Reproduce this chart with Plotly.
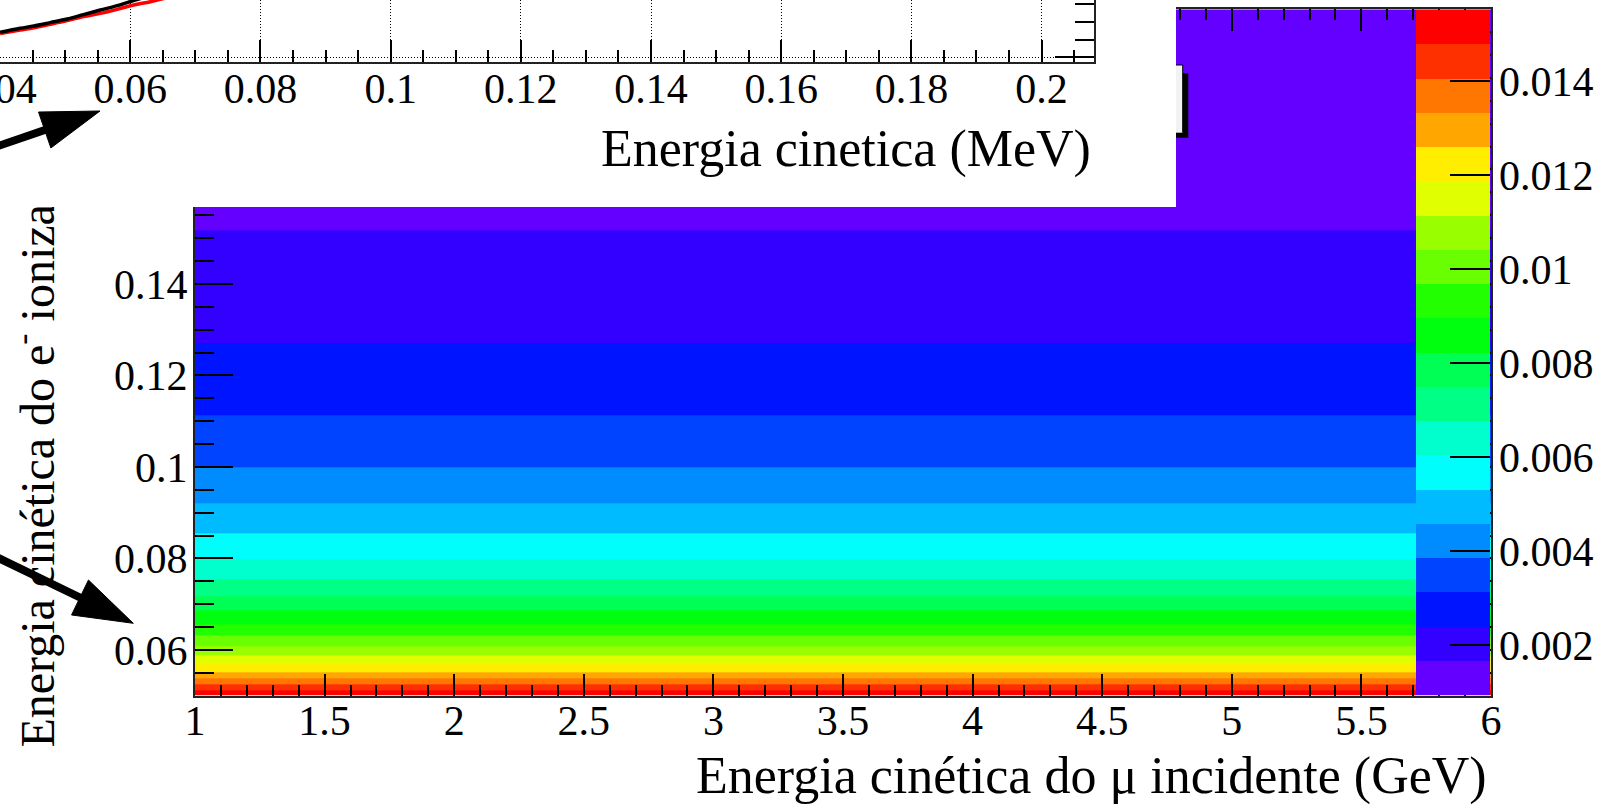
import colorsys
import plotly.graph_objects as go

W, H = 1612, 811
FONT = "Liberation Serif, Times New Roman, serif"

# ---- main 2D histogram: ionization electron energy vs incident muon energy ----
mu_energy_edges = [1.0, 6.0]  # GeV
electron_energy_edges = [0.05, 0.0512, 0.0525, 0.0538, 0.0552, 0.0570, 0.0588,
                         0.0609, 0.0631, 0.0656, 0.0686, 0.0718, 0.0755, 0.0799,
                         0.0854, 0.0920, 0.1000, 0.1112, 0.1270, 0.1518, 0.2]  # MeV
electron_density = [0.0152, 0.0144, 0.0137, 0.0130, 0.0122, 0.0115, 0.0108,
                    0.0101, 0.0093, 0.0086, 0.0079, 0.0071, 0.0064, 0.0057,
                    0.0050, 0.0042, 0.0035, 0.0028, 0.0020, 0.0013]
z_min, z_max = 0.00094, 0.01552
n_contours = 20

x_ticks = [1, 1.5, 2, 2.5, 3, 3.5, 4, 4.5, 5, 5.5, 6]
x_labels = ["1", "1.5", "2", "2.5", "3", "3.5", "4", "4.5", "5", "5.5", "6"]
y_ticks = [0.06, 0.08, 0.10, 0.12, 0.14, 0.16, 0.18, 0.20]
y_labels = ["0.06", "0.08", "0.1", "0.12", "0.14", "0.16", "0.18", "0.2"]
cbar_ticks = [0.002, 0.004, 0.006, 0.008, 0.010, 0.012, 0.014]
cbar_labels = ["0.002", "0.004", "0.006", "0.008", "0.01", "0.012", "0.014"]

# ---- inset: two curves vs kinetic energy (MeV) ----
inset_energy_black = [0.0400, 0.0431, 0.0452, 0.0477, 0.0503, 0.0528, 0.0554,
                      0.0580, 0.0605, 0.0630]
inset_black = [1.41, 1.64, 1.77, 1.96, 2.16, 2.41, 2.67, 2.92, 3.20, 3.48]
inset_energy_red = [0.0400, 0.0431, 0.0452, 0.0477, 0.0503, 0.0528, 0.0554,
                    0.0580, 0.0605, 0.0631, 0.0660]
inset_red = [1.35, 1.54, 1.67, 1.86, 2.07, 2.30, 2.48, 2.71, 2.95, 3.14, 3.40]
inset_x_ticks = [0.04, 0.06, 0.08, 0.10, 0.12, 0.14, 0.16, 0.18, 0.20]
inset_x_labels = ["0.04", "0.06", "0.08", "0.1", "0.12", "0.14", "0.16", "0.18", "0.2"]

x_title = "Energia cinética do μ incidente (GeV)"
y_title = "Energia cinética do e<sup>-</sup> ionizado (MeV)"
inset_title = "Energia cinetica (MeV)"


def pretty_palette(n_levels):
    """ROOT 'pretty' palette (50 HLS colours) sampled for n contour levels."""
    cols = []
    for j in range(n_levels):
        idx = int((j + 0.99) * 50 / n_levels)
        hue = 280.0 - (idx + 1) * 280.0 / 50
        r, g, b = colorsys.hls_to_rgb((hue % 360) / 360.0, 0.5, 1.0)
        cols.append(f"rgb({round(r * 255)},{round(g * 255)},{round(b * 255)})")
    return cols


levels = pretty_palette(n_contours)
colorscale = []
for j, c in enumerate(levels):
    colorscale.append([j / n_contours, c])
    colorscale.append([(j + 1) / n_contours, c])


def px(x):
    return x / W


def py(y):
    return 1 - y / H


# pixel layout
FL, FR, FT, FB = 195, 1491, 9.3, 695.7      # main frame
COVER_R, COVER_B = 1176, 207                 # inset pad
IN_R, IN_B = 1094.3, 61.7                    # inset frame

fig = go.Figure()

fig.add_trace(go.Heatmap(
    x=mu_energy_edges, y=electron_energy_edges,
    z=[[v] for v in electron_density],
    zmin=z_min, zmax=z_max, colorscale=colorscale,
    xaxis="x", yaxis="y", hoverinfo="skip",
    colorbar=dict(
        x=px(1416), xanchor="left", y=py(695), yanchor="bottom",
        len=(695 - 10) / H, lenmode="fraction",
        thickness=74, thicknessmode="pixels",
        xpad=0, ypad=0, outlinewidth=0, borderwidth=0,
        tickmode="array", tickvals=cbar_ticks, ticktext=cbar_labels,
        ticks="inside", ticklen=40, tickwidth=1.5, tickcolor="black",
        tickfont=dict(family=FONT, size=42, color="black"),
    ),
))

# y-axis title carried as a rotated tick label of an overlaid axis
fig.add_trace(go.Scatter(x=[], y=[], xaxis="x", yaxis="y4", showlegend=False))
# blank pad of the inset
fig.add_trace(go.Scatter(x=[], y=[], xaxis="x2", yaxis="y2", showlegend=False))
# inset curves
fig.add_trace(go.Scatter(x=inset_energy_red, y=inset_red, mode="lines",
                         line=dict(color="red", width=3.5, shape="spline"),
                         xaxis="x3", yaxis="y3", showlegend=False, hoverinfo="skip"))
fig.add_trace(go.Scatter(x=inset_energy_black, y=inset_black, mode="lines",
                         line=dict(color="black", width=3.5, shape="spline"),
                         xaxis="x3", yaxis="y3", showlegend=False, hoverinfo="skip"))

tickfont = dict(family=FONT, size=42, color="black")
blank = dict(showline=False, showgrid=False, zeroline=False,
             showticklabels=False, ticks="")

fig.update_layout(
    width=W, height=H, margin=dict(l=0, r=0, t=0, b=0, autoexpand=False),
    paper_bgcolor="white", plot_bgcolor="white", showlegend=False,
    xaxis=dict(
        domain=[px(FL), px(FR)], range=[1, 6], anchor="y",
        tickmode="array", tickvals=x_ticks, ticktext=x_labels,
        ticks="inside", ticklen=22, tickwidth=1.7, tickcolor="black",
        minor=dict(tickmode="linear", tick0=1, dtick=0.1, ticks="inside",
                   ticklen=11, tickwidth=1.7, tickcolor="black", showgrid=False),
        showline=True, linecolor="#222", linewidth=2, mirror="ticks",
        showgrid=False, zeroline=False, tickfont=tickfont, ticklabelstandoff=-13,
    ),
    yaxis=dict(
        domain=[py(FB), py(FT)], range=[0.05, 0.2], anchor="x",
        tickmode="array", tickvals=y_ticks, ticktext=y_labels,
        ticks="inside", ticklen=38, tickwidth=1.7, tickcolor="black",
        minor=dict(tickmode="linear", tick0=0.05, dtick=0.005, ticks="inside",
                   ticklen=19, tickwidth=1.7, tickcolor="black", showgrid=False),
        showline=True, linecolor="#222", linewidth=2, mirror="ticks",
        showgrid=False, zeroline=False, tickfont=tickfont, ticklabelstandoff=-3,
    ),
    yaxis4=dict(
        overlaying="y", anchor="x", side="left", range=[0.05, 0.2],
        tickmode="array", tickvals=[0.1173], ticktext=[y_title], tickangle=-90,
        ticks="", showline=False, showgrid=False, zeroline=False,
        tickfont=dict(family=FONT, size=48, color="black"), ticklabelstandoff=130,
        ticklabeloverflow="allow",
    ),
    xaxis2=dict(domain=[0, px(COVER_R)], range=[0, 1], anchor="y2", **blank),
    yaxis2=dict(domain=[py(COVER_B), 1], range=[0, 1], anchor="x2", **blank),
    xaxis3=dict(
        domain=[0, px(IN_R)], range=[0.03999, 0.2081], anchor="y3",
        tickmode="array", tickvals=inset_x_ticks, ticktext=inset_x_labels,
        ticks="inside", ticklen=22, tickwidth=1.7, tickcolor="black",
        minor=dict(tickmode="linear", tick0=0.04, dtick=0.005, ticks="inside",
                   ticklen=12, tickwidth=1.7, tickcolor="black", showgrid=False),
        showline=True, linecolor="#222", linewidth=2, mirror=False,
        showgrid=True, gridcolor="black", gridwidth=1, griddash="1px,2px",
        zeroline=False, tickfont=tickfont, ticklabelstandoff=-11,
        ticklabeloverflow="allow",
    ),
    yaxis3=dict(
        domain=[py(IN_B), 1], range=[-0.2486, 3.237], anchor="x3", side="right",
        tickmode="array", tickvals=[0], ticks="inside", ticklen=39, tickwidth=1.7,
        tickcolor="black",
        minor=dict(tickmode="linear", tick0=0, dtick=1, ticks="inside",
                   ticklen=19, tickwidth=1.7, tickcolor="black", showgrid=False),
        showline=True, linecolor="#222", linewidth=2,
        showgrid=True, gridcolor="black", gridwidth=1, griddash="1px,2px",
        zeroline=False, showticklabels=False,
    ),
)

# axis titles (right-aligned, ROOT style)
fig.add_annotation(text=x_title, xref="paper", yref="paper", x=px(1489), y=py(776),
                   xanchor="right", yanchor="middle", showarrow=False,
                   font=dict(family=FONT, size=52, color="black"))
fig.add_annotation(text=inset_title, xref="paper", yref="paper", x=px(1093), y=py(149),
                   xanchor="right", yanchor="middle", showarrow=False,
                   font=dict(family=FONT, size=52, color="black"))

shapes = []


def arrow(tip, base_mid, half_w, tail_x, width):
    tx, ty = tip
    bx, by = base_mid
    dx, dy = tx - bx, ty - by
    n = (dx * dx + dy * dy) ** 0.5
    ux, uy = dx / n, dy / n
    nx, ny = -uy, ux
    t = (bx - tail_x) / ux
    sx, sy = bx - ux * t, by - uy * t
    shapes.append(dict(type="line", xref="paper", yref="paper",
                       x0=px(sx), y0=py(sy), x1=px(bx + ux * 4), y1=py(by + uy * 4),
                       line=dict(color="black", width=width), layer="above"))
    c1 = (bx + nx * half_w, by + ny * half_w)
    c2 = (bx - nx * half_w, by - ny * half_w)
    path = (f"M{px(tx)},{py(ty)} L{px(c1[0])},{py(c1[1])} "
            f"L{px(c2[0])},{py(c2[1])} Z")
    shapes.append(dict(type="path", xref="paper", yref="paper", path=path,
                       fillcolor="black", line=dict(color="black", width=1),
                       layer="above"))


arrow((100, 111), (44.7, 130), 19, -6, 8)
arrow((133.3, 623.3), (80, 597.5), 19.4, -6, 8)

# edge of a legend box peeking out from behind the inset pad
shapes.append(dict(type="rect", xref="paper", yref="paper",
                   x0=px(1176), x1=px(1188.3), y0=py(137.7), y1=py(73.3),
                   fillcolor="black", line=dict(width=0), layer="above"))
shapes.append(dict(type="rect", xref="paper", yref="paper",
                   x0=px(1176), x1=px(1182.7), y0=py(132.7), y1=py(65),
                   fillcolor="#f2f2f2", line=dict(width=0), layer="above"))
shapes.append(dict(type="path", xref="paper", yref="paper",
                   path=f"M{px(1176)},{py(65)} L{px(1182.7)},{py(65)} L{px(1182.7)},{py(132.7)}",
                   line=dict(color="black", width=1), layer="above"))

fig.update_layout(shapes=shapes)

fig.write_html("out.html", config={"displayModeBar": False})
